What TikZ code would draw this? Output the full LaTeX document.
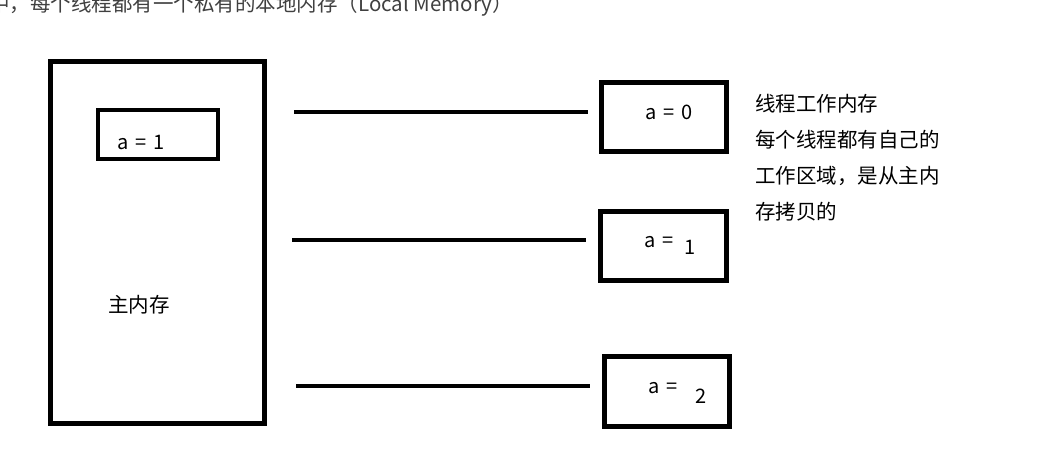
\documentclass[tikz,border=0pt]{standalone}
\usepackage{fontspec}
\setmainfont{Noto Sans CJK SC}
\newcommand{\gapsp}{\hspace{7pt}}
\begin{document}
\begin{tikzpicture}[x=1pt,y=-1pt,
  box/.style={draw=black,rectangle,inner sep=0pt,outer sep=0pt},
  lbl/.style={inner sep=0pt,font=\fontsize{20}{22}\selectfont,text=black},
  conn/.style={line width=4pt}]
\useasboundingbox[fill=white] (0,0) rectangle (1048,450);
% cut-off top text
\node[anchor=west,inner sep=0pt,text=black!75,font=\fontsize{20.5}{22}\selectfont] (top) at (-11,5) {中，每个线程都有一个私有的本地内存（Local Memory）};
% main memory
\node[box,line width=5pt,minimum width=214pt,minimum height=362pt] (main) at (157.5,242.5) {};
\node[box,line width=4pt,minimum width=120pt,minimum height=49pt] (mvar) at (158,134.5) {};
\node[lbl] (mval) at (141,142) {a\gapsp=\gapsp1};
\node[inner sep=0pt,font=\fontsize{20.5}{22}\selectfont] (mlabel) at (139,305) {主内存};
% thread boxes
\node[box,line width=5pt,minimum width=125pt,minimum height=69pt] (t1) at (664,117) {};
\node[box,line width=5pt,minimum width=126pt,minimum height=69pt] (t2) at (663.5,246) {};
\node[box,line width=5pt,minimum width=125pt,minimum height=70pt] (t3) at (667,391.5) {};
\node[lbl] (v1) at (669,112) {a\gapsp=\gapsp0};
\node[lbl] (v2a) at (659,242) {a\gapsp=};
\node[lbl] (v2b) at (690,247) {1};
\node[lbl] (v3a) at (663,388) {a\gapsp=};
\node[lbl] (v3b) at (701,396) {2};
% connectors
\coordinate (l1a) at (294,112); \coordinate (l1b) at (588,112);
\coordinate (l2a) at (292,240); \coordinate (l2b) at (586,240);
\coordinate (l3a) at (296,386); \coordinate (l3b) at (590,386);
\draw[conn] (l1a) -- (l1b);
\draw[conn] (l2a) -- (l2b);
\draw[conn] (l3a) -- (l3b);
% description
\node[anchor=north west,inner sep=0pt,align=left,font=\fontsize{20.5}{36}\selectfont] (desc) at (755,94) {线程工作内存\\每个线程都有自己的\\工作区域，是从主内\\存拷贝的};
\end{tikzpicture}
\end{document}
